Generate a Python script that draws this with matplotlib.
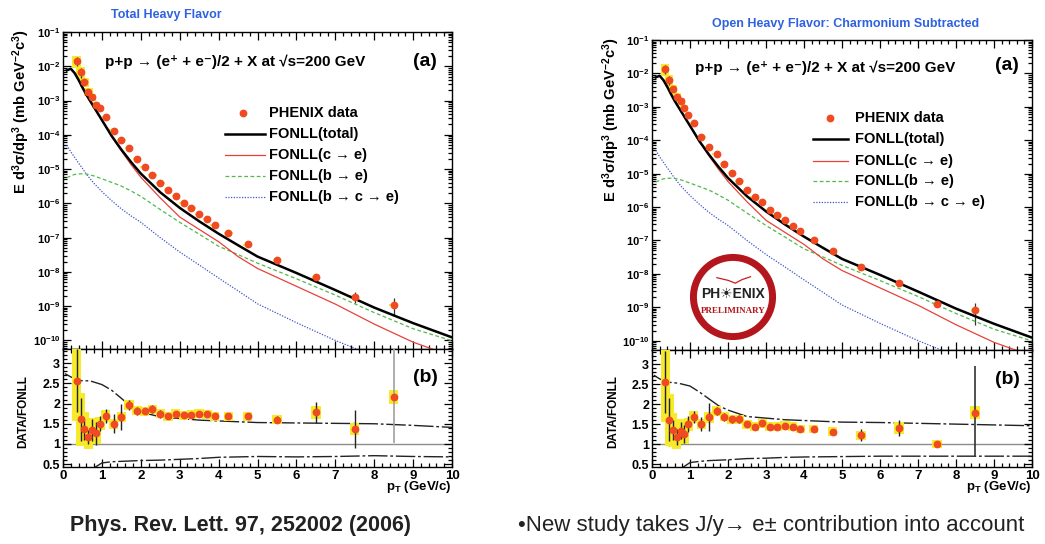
import math
import matplotlib
matplotlib.use("Agg")
import matplotlib.pyplot as plt
from matplotlib.lines import Line2D
from matplotlib.patches import Circle
from matplotlib.ticker import MultipleLocator, LogLocator, FuncFormatter, NullFormatter

plt.rcParams['font.family'] = ['Liberation Sans', 'DejaVu Sans']
plt.rcParams['mathtext.fontset'] = 'custom'
plt.rcParams['mathtext.rm'] = 'Liberation Sans:bold'
plt.rcParams['mathtext.bf'] = 'Liberation Sans:bold'
plt.rcParams['mathtext.it'] = 'Liberation Sans:bold:italic'
plt.rcParams['mathtext.sf'] = 'Liberation Sans:bold'

# electron pT bins (GeV/c)
pt_bins = [0.35, 0.45, 0.55, 0.65, 0.75, 0.85, 0.95, 1.1, 1.3, 1.5, 1.7, 1.9, 2.1, 2.3,
           2.5, 2.7, 2.9, 3.1, 3.3, 3.5, 3.7, 3.9, 4.25, 4.75, 5.5, 6.5, 7.5, 8.5]

# invariant yield, total heavy flavor (mb GeV^-2 c^3)
left_yield = [1.45e-2, 6.9e-3, 3.55e-3, 1.8e-3, 1.29e-3, 7.4e-4, 5.9e-4, 3.2e-4, 1.32e-4,
              7.1e-5, 4.1e-5, 2.0e-5, 1.17e-5, 6.8e-6, 4.0e-6, 2.45e-6, 1.66e-6, 1.04e-6,
              7.4e-7, 5.0e-7, 3.5e-7, 2.4e-7, 1.4e-7, 6.3e-8, 2.2e-8, 7.0e-9, 1.9e-9, 1.07e-9]
# charmonium subtracted
right_yield = [1.4e-2, 6.5e-3, 3.5e-3, 2.0e-3, 1.5e-3, 9.5e-4, 5.6e-4, 3.2e-4, 1.26e-4,
               6.3e-5, 3.8e-5, 1.9e-5, 1.05e-5, 6.0e-6, 3.3e-6, 2.0e-6, 1.38e-6, 8.3e-7,
               5.6e-7, 4.0e-7, 2.75e-7, 1.9e-7, 1.05e-7, 4.8e-8, 1.55e-8, 5.2e-9, 1.26e-9, 8.0e-10]

# DATA/FONLL
left_ratio = [2.57, 1.61, 1.36, 1.17, 1.34, 1.26, 1.50, 1.69, 1.50, 1.67, 1.96, 1.82, 1.81, 1.86,
              1.75, 1.69, 1.75, 1.71, 1.72, 1.75, 1.74, 1.69, 1.69, 1.68, 1.60, 1.78, 1.37, 2.17]
left_stat_lo = [0.78, 0.53, 0.25, 0.18, 0.27, 0.28, 0.18, 0.17, 0.24, 0.33, 0.12, 0.10, 0.07, 0.10,
                0.10, 0.06, 0.05, 0.05, 0.05, 0.05, 0.05, 0.05, 0.06, 0.07, 0.09, 0.27, 0.47, 1.15]
left_stat_hi = [0.78, 0.53, 0.25, 0.18, 0.27, 0.28, 0.18, 0.17, 0.24, 0.33, 0.12, 0.10, 0.07, 0.10,
                0.10, 0.06, 0.05, 0.05, 0.05, 0.05, 0.05, 0.05, 0.06, 0.07, 0.09, 0.27, 0.47, 1.30]
left_sys = [1.0, 0.65, 0.42, 0.30, 0.30, 0.25, 0.16, 0.15, 0.13, 0.13, 0.13, 0.11, 0.11, 0.11,
            0.11, 0.11, 0.11, 0.11, 0.11, 0.11, 0.11, 0.11, 0.11, 0.11, 0.11, 0.15, 0.15, 0.17]

right_ratio = [2.55, 1.61, 1.36, 1.17, 1.34, 1.26, 1.50, 1.67, 1.50, 1.67, 1.83, 1.69, 1.62, 1.62,
               1.50, 1.44, 1.52, 1.44, 1.44, 1.46, 1.44, 1.38, 1.38, 1.31, 1.22, 1.40, 1.00, 1.79]
right_stat_lo = [0.78, 0.53, 0.25, 0.20, 0.22, 0.22, 0.20, 0.15, 0.17, 0.35, 0.10, 0.10, 0.08, 0.10,
                 0.08, 0.05, 0.05, 0.05, 0.05, 0.05, 0.05, 0.06, 0.06, 0.08, 0.15, 0.20, 0.03, 1.12]
right_stat_hi = [0.78, 0.53, 0.25, 0.20, 0.22, 0.22, 0.20, 0.15, 0.17, 0.35, 0.10, 0.10, 0.08, 0.10,
                 0.08, 0.05, 0.05, 0.05, 0.05, 0.05, 0.05, 0.06, 0.06, 0.08, 0.15, 0.20, 0.03, 1.17]
right_sys = [1.0, 0.65, 0.42, 0.30, 0.30, 0.25, 0.16, 0.15, 0.13, 0.13, 0.13, 0.11, 0.11, 0.11,
             0.11, 0.11, 0.11, 0.11, 0.11, 0.11, 0.11, 0.11, 0.11, 0.11, 0.11, 0.15, 0.10, 0.15]

# FONLL predictions
fonll_pt = [0.1, 0.2, 0.3, 0.4, 0.5, 0.6, 0.8, 1.0, 1.25, 1.5, 1.75, 2.0, 2.5, 3.0, 3.5,
            4.0, 4.5, 5.0, 6.0, 7.0, 8.0, 9.0, 10.0]
fonll_total = [7.6e-3, 8.5e-3, 6.3e-3, 4.0e-3, 2.4e-3, 1.48e-3, 6.3e-4, 2.7e-4, 9.3e-5, 3.7e-5,
               1.6e-5, 7.4e-6, 2.1e-6, 7.4e-7, 3.0e-7, 1.3e-7, 6.0e-8, 2.8e-8, 9.3e-9, 2.95e-9,
               9.1e-10, 3.2e-10, 1.23e-10]
fonll_c = [7.6e-3, 8.5e-3, 6.3e-3, 4.0e-3, 2.4e-3, 1.47e-3, 6.2e-4, 2.65e-4, 8.9e-5, 3.4e-5,
           1.35e-5, 5.8e-6, 1.44e-6, 4.0e-7, 1.74e-7, 7.6e-8, 2.8e-8, 1.26e-8, 3.8e-9, 1.15e-9,
           3.0e-10, 8.9e-11, 3.5e-11]
fonll_b = [5.6e-6, 6.3e-6, 7.0e-6, 7.2e-6, 7.3e-6, 7.2e-6, 6.3e-6, 5.2e-6, 4.1e-6, 3.2e-6,
           2.3e-6, 1.6e-6, 6.6e-7, 2.8e-7, 1.26e-7, 5.6e-8, 3.2e-8, 1.8e-8, 6.3e-9, 2.1e-9,
           6.5e-10, 2.2e-10, 9.8e-11]
fonll_bc = [5.0e-5, 3.2e-5, 2.2e-5, 1.5e-5, 1.05e-5, 7.1e-6, 3.8e-6, 2.2e-6, 1.2e-6, 6.9e-7,
            4.3e-7, 2.8e-7, 1.0e-7, 3.8e-8, 1.6e-8, 6.6e-9, 2.8e-9, 1.17e-9, 3.3e-10, 1.0e-10,
            3.5e-11, 1.2e-11, 4e-12]

# FONLL uncertainty band relative to central value
band_pt = [0.05, 0.2, 0.4, 0.7, 1.0, 1.25, 1.5, 1.75, 2.0, 2.5, 3.0, 3.5, 4.0, 5.0, 6.0,
           7.0, 8.0, 9.0, 10.0]
left_band_hi = [2.74, 2.66, 2.57, 2.56, 2.47, 2.33, 2.13, 1.92, 1.79, 1.67, 1.63, 1.59, 1.57,
                1.53, 1.52, 1.51, 1.50, 1.46, 1.41]
left_band_lo = [0.3, 0.3, 0.3, 0.35, 0.53, 0.56, 0.57, 0.58, 0.59, 0.60, 0.62, 0.64, 0.67,
                0.69, 0.68, 0.69, 0.71, 0.69, 0.68]
right_band_hi = [2.72, 2.63, 2.55, 2.52, 2.45, 2.30, 2.13, 1.96, 1.85, 1.69, 1.65, 1.61, 1.59,
                 1.55, 1.54, 1.52, 1.50, 1.48, 1.46]
right_band_lo = [0.3, 0.3, 0.3, 0.35, 0.54, 0.57, 0.59, 0.60, 0.61, 0.64, 0.65, 0.67, 0.68,
                 0.69, 0.70, 0.70, 0.70, 0.70, 0.70]

W, H = 1045, 544
DATA_RED = '#ef4a22'
YELLOW = '#f6ea2a'
C_RED = '#e8413a'
C_GREEN = '#4fba4a'
C_BLUE = '#3f55c8'
TITLE_BLUE = '#2f62e0'

fig = plt.figure(figsize=(W / 100, H / 100), dpi=100)


def px_axes(x0, y0, x1, y1):
    return fig.add_axes([x0 / W, 1 - y1 / H, (x1 - x0) / W, (y1 - y0) / H])


def ftext(x, y, s, **kw):
    fig.text(x / W, 1 - y / H, s, **kw)


def style_axis(ax):
    ax.tick_params(which='both', direction='in', top=True, right=True, width=0.9,
                   labelsize=9.5, pad=2)
    ax.tick_params(which='major', length=6)
    ax.tick_params(which='minor', length=3)
    for sp in ax.spines.values():
        sp.set_linewidth(1.0)
    ax.set_xlim(0, 10)
    ax.xaxis.set_major_locator(MultipleLocator(1))
    ax.xaxis.set_minor_locator(MultipleLocator(0.2))


def spectrum_panel(ax, yld, ratio, stat_lo, stat_hi, sys, ylo):
    ax.set_yscale('log')
    ax.set_ylim(ylo, 1e-1)
    # systematic boxes and statistical bars scaled from the ratio uncertainties
    box_lo = [y * (1 - s / r) for y, s, r in zip(yld, sys, ratio)]
    box_h = [y * 2 * s / r for y, s, r in zip(yld, sys, ratio)]
    ax.bar(pt_bins, box_h, bottom=box_lo, width=0.22, color=YELLOW, zorder=1, linewidth=0)
    elo = [y * e / r for y, e, r in zip(yld, stat_lo, ratio)]
    ehi = [y * e / r for y, e, r in zip(yld, stat_hi, ratio)]
    ax.errorbar(pt_bins, yld, yerr=[elo, ehi], fmt='none', ecolor='#333333', elinewidth=0.9,
                capsize=0, zorder=2)
    ax.plot(fonll_pt, fonll_bc, color=C_BLUE, lw=0.9, ls=(0, (1, 1.2)), zorder=3)
    ax.plot(fonll_pt, fonll_b, color=C_GREEN, lw=0.9, ls=(0, (3, 2)), zorder=3)
    ax.plot(fonll_pt, fonll_c, color=C_RED, lw=0.9, zorder=3)
    ax.plot(fonll_pt, fonll_total, color='black', lw=1.8, zorder=4)
    ax.plot(pt_bins, yld, 'o', color=DATA_RED, ms=4.6, mec=DATA_RED, zorder=5)
    style_axis(ax)
    ax.yaxis.set_major_locator(LogLocator(base=10, numticks=20))
    ax.yaxis.set_minor_locator(LogLocator(base=10, subs=[2, 3, 4, 5, 6, 7, 8, 9], numticks=20))
    ax.yaxis.set_minor_formatter(NullFormatter())
    ax.yaxis.set_major_formatter(
        FuncFormatter(lambda v, p: r'$\mathbf{10^{%d}}$' % round(math.log10(v))))
    ax.tick_params(axis='x', labelbottom=False)
    ax.tick_params(axis='y', labelsize=8)


def ratio_panel(ax, ratio, stat_lo, stat_hi, sys, band_hi, band_lo, wide_color):
    ax.set_ylim(0.43, 3.35)
    ax.axhline(1.0, color='#8c8c8c', lw=1.0, zorder=1)
    ax.plot(band_pt, band_hi, color='#222222', lw=1.0, ls=(0, (14, 2, 2, 2)), zorder=2)
    ax.plot(band_pt, band_lo, color='#222222', lw=1.0, ls=(0, (14, 2, 2, 2)), zorder=2)
    box_lo = [r - s for r, s in zip(ratio, sys)]
    box_h = [2 * s for s in sys]
    ax.bar(pt_bins, box_h, bottom=box_lo, width=0.24, color=YELLOW, zorder=3, linewidth=0)
    n = len(pt_bins) - 1
    ax.errorbar(pt_bins[:n], ratio[:n], yerr=[stat_lo[:n], stat_hi[:n]], fmt='none',
                ecolor='#222222', elinewidth=1.0, capsize=0, zorder=4)
    ax.errorbar(pt_bins[n:], ratio[n:], yerr=[stat_lo[n:], stat_hi[n:]], fmt='none',
                ecolor=wide_color, elinewidth=1.2, capsize=0, zorder=4)
    ax.plot(pt_bins, ratio, 'o', color=DATA_RED, ms=4.6, mec=DATA_RED, zorder=5)
    style_axis(ax)
    ax.yaxis.set_major_locator(MultipleLocator(0.5))
    ax.yaxis.set_minor_locator(MultipleLocator(0.1))
    ax.yaxis.set_major_formatter(FuncFormatter(lambda v, p: '%g' % v))
    ax.tick_params(axis='y', labelsize=9)
    for lab in ax.get_xticklabels() + ax.get_yticklabels():
        lab.set_fontweight('bold')


def legend_block(x_mark, x_l0, x_l1, x_text, rows):
    entries = ['PHENIX data', 'FONLL(total)', 'FONLL(c → e)', 'FONLL(b → e)',
               'FONLL(b → c → e)']
    styles = [None,
              dict(color='black', lw=1.8),
              dict(color=C_RED, lw=0.9),
              dict(color=C_GREEN, lw=0.9, ls=(0, (3, 2))),
              dict(color=C_BLUE, lw=0.9, ls=(0, (1, 1.2)))]
    for label, st, y in zip(entries, styles, rows):
        yy = 1 - y / H
        if st is None:
            fig.add_artist(Line2D([x_mark / W], [yy], marker='o', color=DATA_RED, ms=4.6,
                                  ls='none', transform=fig.transFigure))
        else:
            fig.add_artist(Line2D([x_l0 / W, x_l1 / W], [yy, yy], transform=fig.transFigure,
                                  **st))
        ftext(x_text, y, label, fontsize=10.5, fontweight='bold', va='center', ha='left')


# left: total heavy flavor
axa = px_axes(63, 32, 452, 349)
spectrum_panel(axa, left_yield, left_ratio, left_stat_lo, left_stat_hi, left_sys, 10 ** -10.25)
axb = px_axes(63, 349, 452, 467)
ratio_panel(axb, left_ratio, left_stat_lo, left_stat_hi, left_sys, left_band_hi, left_band_lo,
            '#a0a0a0')

# right: charmonium subtracted
axc = px_axes(652, 40, 1032, 350)
spectrum_panel(axc, right_yield, right_ratio, right_stat_lo, right_stat_hi, right_sys,
               10 ** -10.28)
axd = px_axes(652, 350, 1032, 467)
ratio_panel(axd, right_ratio, right_stat_lo, right_stat_hi, right_sys, right_band_hi,
            right_band_lo, '#333333')

reaction = 'p+p \u2192 (e\u207a + e\u207b)/2 + X at \u221as=200 GeV'
ylab = r'$\mathbf{E\ d^{3}\sigma/dp^{3}\ (mb\ GeV^{-2}c^{3})}$'
ptlab = r'$\mathbf{p_{T}}$ (GeV/c)'

ftext(166, 15, 'Total Heavy Flavor', color=TITLE_BLUE, fontsize=9, fontweight='bold',
      ha='center', va='center')
ftext(846, 24, 'Open Heavy Flavor: Charmonium Subtracted', color=TITLE_BLUE, fontsize=9,
      fontweight='bold', ha='center', va='center')

for x0, yr, xa, ya, yb, xl, yl in [(105, 62, 413, 61, 378, 21, 112),
                                   (695, 68, 995, 66, 379, 611, 120)]:
    ftext(x0, yr, reaction, fontsize=11, fontweight='bold', ha='left', va='center')
    ftext(xa, ya, '(a)', fontsize=14, fontweight='bold', ha='left', va='center')
    ftext(xa, yb, '(b)', fontsize=14, fontweight='bold', ha='left', va='center')
    ftext(xl, yl, ylab, fontsize=10.5, rotation=90, ha='center', va='center')
    ftext(xl + 2, 412, 'DATA/FONLL', fontsize=8.5, fontweight='bold', rotation=90,
          ha='center', va='center')

ftext(452, 487, ptlab, fontsize=9.5, fontweight='bold', ha='right', va='center')
ftext(1032, 487, ptlab, fontsize=9.5, fontweight='bold', ha='right', va='center')

legend_block(243, 225, 265, 269, [113, 134, 155, 176, 197])
legend_block(830, 813, 848, 855, [118, 139, 161, 181, 202])

# PHENIX preliminary stamp
stamp = fig.add_axes([(733 - 46) / W, 1 - (297 + 46) / H, 92 / W, 92 / H])
stamp.set_xlim(-1, 1)
stamp.set_ylim(-1, 1)
stamp.set_aspect('equal')
stamp.axis('off')
stamp.add_patch(Circle((0, 0), 0.86, fill=False, ec='#b3161c', lw=5))
stamp.plot([-0.35, -0.1, 0.05, 0.2, 0.38], [0.42, 0.36, 0.3, 0.38, 0.44], color='#c0201e', lw=0.9)
stamp.text(0, 0.06, 'PH\u2600ENIX', fontsize=10, fontweight='bold', ha='center', va='center',
           color='#222222')
stamp.text(0, -0.3, 'PRELIMINARY', fontsize=6.5, fontweight='bold', ha='center', va='center',
           color='#b3161c', family='Liberation Serif')

ftext(240, 525, 'Phys. Rev. Lett. 97, 252002 (2006)', fontsize=15.5, fontweight='bold',
      ha='center', va='center', color='#222222')
ftext(518, 525, '\u2022New study takes J/y\u2192 e\u00b1 contribution into account', fontsize=16,
      ha='left', va='center', color='#222222')

fig.savefig('out.png', dpi=100)
